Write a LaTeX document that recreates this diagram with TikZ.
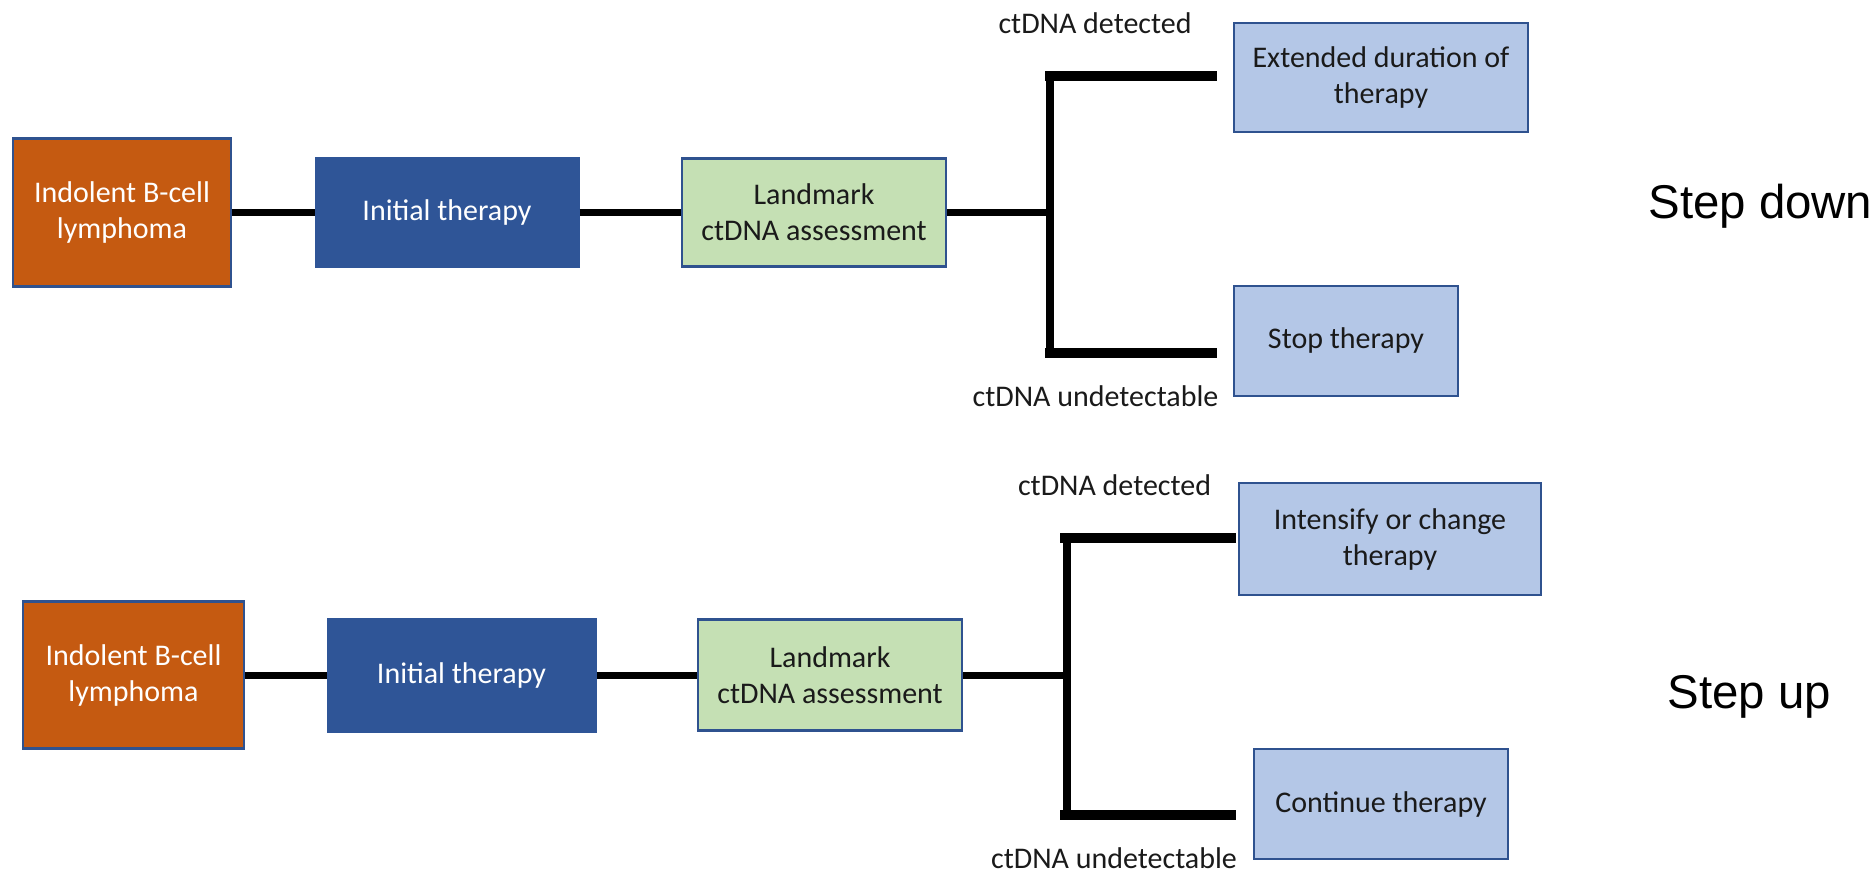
\documentclass[tikz,border=0pt]{standalone}
\usepackage{fontspec}
\setmainfont{Carlito}
\newfontfamily\arialfont{Liberation Sans}
\definecolor{orangefill}{HTML}{C55A11}
\definecolor{darkblue}{HTML}{2F5597}
\definecolor{edgeblue}{HTML}{2F528F}
\definecolor{greenfill}{HTML}{C5E0B4}
\definecolor{lightblue}{HTML}{B4C7E7}
\definecolor{textdark}{HTML}{1A1A1A}
\tikzset{
  boxbase/.style={rectangle, inner sep=0pt, align=center, font=\fontsize{15}{18}\selectfont},
  diseasebox/.style={boxbase, fill=orangefill, draw=edgeblue, line width=1.25pt, text=white},
  therapybox/.style={boxbase, fill=darkblue, draw=darkblue, line width=0.5pt, text=white},
  assessbox/.style={boxbase, fill=greenfill, draw=edgeblue, line width=1.25pt, text=textdark},
  outcomebox/.style={boxbase, fill=lightblue, draw=edgeblue, line width=1.25pt, text=textdark},
  branchlabel/.style={anchor=base, inner sep=0pt, font=\fontsize{15}{18}\selectfont, text=textdark},
  sidelabel/.style={anchor=base west, inner sep=0pt, font=\arialfont\fontsize{23.7}{28}\selectfont, text=black},
  conn/.style={line width=3.5pt, black},
  stem/.style={line width=4pt, black},
  arm/.style={line width=5pt, black}
}
\begin{document}
\begin{tikzpicture}[x={(0.5pt,0)}, y={(0,-0.5pt)}]
\useasboundingbox (0,0) rectangle (1875,872);

% ---------- Top: Step down ----------
\node[diseasebox, minimum width=109pt, minimum height=74pt] (o1) at (122,212.5) {Indolent B-cell\\lymphoma};
\node[therapybox, minimum width=132pt, minimum height=54.5pt] (i1) at (447,212.5) {Initial therapy};
\node[assessbox, minimum width=132pt, minimum height=54pt] (g1) at (814,212.5) {Landmark\\ctDNA assessment};
\node[outcomebox, minimum width=147pt, minimum height=54.5pt] (e1) at (1381,77.5) {Extended duration of\\therapy};
\node[outcomebox, minimum width=112pt, minimum height=55pt] (s1) at (1346,341) {Stop therapy};

\coordinate (b1m) at (1050,212.5);
\coordinate (b1t) at (1050,76);
\coordinate (b1b) at (1050,353);
\coordinate (b1ts) at (1045,76);
\coordinate (b1bs) at (1045,353);
\coordinate (b1te) at (1217,76);
\coordinate (b1be) at (1217,353);

\draw[conn] (o1.east) -- (i1.west);
\draw[conn] (i1.east) -- (g1.west);
\draw[conn] (g1.east) -- (b1m);
\draw[stem] (b1t) -- (b1b);
\draw[arm] (b1ts) -- (b1te);
\draw[arm] (b1bs) -- (b1be);

\node[branchlabel] (d1) at (1095,34) {ctDNA detected};
\node[branchlabel] (u1) at (1095.5,406) {ctDNA undetectable};
\node[sidelabel] (sd) at (1648,219) {Step down};

% ---------- Bottom: Step up ----------
\node[diseasebox, minimum width=110.5pt, minimum height=73.5pt] (o2) at (133.5,675) {Indolent B-cell\\lymphoma};
\node[therapybox, minimum width=134.5pt, minimum height=57pt] (i2) at (461.5,675) {Initial therapy};
\node[assessbox, minimum width=132pt, minimum height=55.5pt] (g2) at (830,675) {Landmark\\ctDNA assessment};
\node[outcomebox, minimum width=151pt, minimum height=56pt] (x2) at (1390,539) {Intensify or change\\therapy};
\node[outcomebox, minimum width=127pt, minimum height=55pt] (c2) at (1381,804) {Continue therapy};

\coordinate (b2m) at (1067,675);
\coordinate (b2t) at (1067,537.5);
\coordinate (b2b) at (1067,815);
\coordinate (b2ts) at (1060,537.5);
\coordinate (b2bs) at (1060,815);
\coordinate (b2te) at (1236,537.5);
\coordinate (b2be) at (1236,815);

\draw[conn] (o2.east) -- (i2.west);
\draw[conn] (i2.east) -- (g2.west);
\draw[conn] (g2.east) -- (b2m);
\draw[stem] (b2t) -- (b2b);
\draw[arm] (b2ts) -- (b2te);
\draw[arm] (b2bs) -- (b2be);

\node[branchlabel] (d2) at (1114.5,495) {ctDNA detected};
\node[branchlabel] (u2) at (1114,868) {ctDNA undetectable};
\node[sidelabel] (su) at (1667,708) {Step up};
\end{tikzpicture}
\end{document}
